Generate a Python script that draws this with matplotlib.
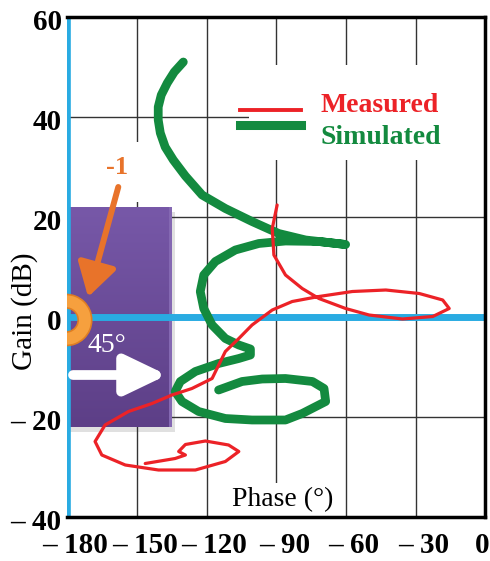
import numpy as np
import matplotlib
matplotlib.use("Agg")
import matplotlib.pyplot as plt
import matplotlib.transforms as mtransforms
from matplotlib.patches import Rectangle, Wedge
from matplotlib.colors import LinearSegmentedColormap

plt.rcParams['font.family'] = ['Liberation Serif', 'DejaVu Serif']

# === data (phase in degrees, gain in dB) ===
sim_phase = [-130.0, -133.9, -136.9, -139.5, -140.8, -140.8, -139.9, -137.8, -134.3,
             -129.1, -121.9, -111.9, -100.4, -88.9, -77.3, -60.1, -71.6, -86.0,
             -97.5, -107.6, -116.2, -121.2, -122.7, -121.2, -117.6, -111.9, -106.1,
             -101.1, -101.1, -106.1, -114.8, -124.8, -131.3, -133.5, -130.6, -123.4,
             -111.9, -100.4, -86.0, -78.8, -68.7, -69.4, -74.4, -86.0, -96.0,
             -104.7, -114.8]
sim_gain = [51.0, 49.0, 46.8, 44.4, 42.0, 39.4, 36.8, 34.0, 31.4,
            28.2, 24.4, 21.7, 19.1, 16.7, 15.4, 14.5, 15.1, 15.2,
            14.7, 13.4, 11.1, 8.4, 5.1, 1.7, -1.6, -4.3, -5.6,
            -6.4, -7.6, -8.3, -9.3, -10.9, -12.9, -14.9, -16.9, -18.9,
            -20.3, -20.6, -20.6, -19.3, -16.9, -14.3, -12.9, -12.3, -12.4,
            -12.9, -14.6]

meas_phase = [-89.6, -91.7, -91.0, -86.0, -78.8, -71.6, -60.1, -50.0, -35.6, -22.6,
              -15.5, -18.3, -28.4, -42.8, -57.2, -71.6, -83.1, -91.7, -100.4, -106.1,
              -111.9, -115.5, -117.6, -126.3, -134.9, -143.5, -153.6, -163.7, -168.0,
              -165.1, -155.0, -140.7, -124.8, -111.9, -106.1, -110.5, -120.5, -129.1,
              -132.0, -129.1, -133.5, -146.4]
meas_gain = [22.4, 17.7, 12.4, 8.4, 5.7, 3.7, 1.7, 0.4, -0.4, 0.1,
             1.7, 3.4, 4.7, 5.4, 5.1, 4.1, 3.1, 1.4, -1.6, -4.3,
             -6.9, -10.3, -12.3, -14.3, -15.6, -17.3, -18.9, -21.6, -24.9,
             -27.6, -29.6, -30.6, -30.6, -28.9, -26.9, -25.6, -24.8, -25.5,
             -26.9, -27.6, -28.3, -29.3]

phase_ticks = [-180, -150, -120, -90, -60, -30, 0]
phase_labels = ['– 180', '– 150', '– 120', '– 90', '– 60', '– 30', '0']
gain_ticks = [-40, -20, 0, 20, 40, 60]
gain_labels = ['– 40', '– 20', '0', '20', '40', '60']

# margin box (45° phase, about ±22 dB gain)
box_phase = [-180, -135]
box_gain = [-22, 22]

BLUE = '#29ABE2'
RED = '#EC2227'
GREEN = '#138A3F'
ORANGE = '#E8732A'

fig = plt.figure(figsize=(4.9, 5.61), dpi=100)
ax = fig.add_axes([67.2 / 490, 44 / 561, 418 / 490, 500 / 561])

# === grid ===
ax.set_xticks(phase_ticks)
ax.set_yticks(gain_ticks)
ax.grid(True, color='#333333', linewidth=1.0)
for gl in ax.get_xgridlines() + ax.get_ygridlines():
    gl.set_zorder(3)

# === purple box with shadow and gradient ===
ax.add_patch(Rectangle((box_phase[0], box_gain[0] - 1.0), box_phase[1] - box_phase[0] + 1.6,
                       box_gain[1] - box_gain[0], facecolor='#999999', alpha=0.3,
                       edgecolor='none', zorder=1))
cmap = LinearSegmentedColormap.from_list('purp', ['#7758A8', '#5D3F87'])
grad = np.linspace(0, 1, 100).reshape(-1, 1)
ax.imshow(grad, extent=[box_phase[0], box_phase[1], box_gain[0], box_gain[1]],
          aspect='auto', cmap=cmap, zorder=2, interpolation='bilinear')
ax.add_patch(Rectangle((box_phase[1] - 1.2, box_gain[0]), 1.2, box_gain[1] - box_gain[0],
                       facecolor='#8468B2', edgecolor='none', zorder=2))
ax.set_xlim(-180, 0)
ax.set_ylim(-40, 60)

# white boxes behind the texts (they break the grid)
ax.add_patch(Rectangle((-101.5, 31.5), 106.2, 19.0, facecolor='white',
                       edgecolor='none', zorder=4))
ax.add_patch(Rectangle((-166.0, 23.0), 23.5, 12.0, facecolor='white',
                       edgecolor='none', zorder=4))
ax.add_patch(Rectangle((-109.0, -40), 46.0, 6.8, facecolor='white',
                       edgecolor='none', zorder=4))

# === blue axes lines ===
ax.axhline(0, color=BLUE, linewidth=5, zorder=5)
ax.axvline(-180, color=BLUE, linewidth=5.5, zorder=5)

# === curves ===
ax.plot(sim_phase, sim_gain, color=GREEN, linewidth=6.3, solid_capstyle='round',
        solid_joinstyle='round', zorder=6)
ax.plot(meas_phase, meas_gain, color=RED, linewidth=2.3, solid_capstyle='round',
        solid_joinstyle='round', zorder=7)

# === legend ===
ax.plot([-105.4, -79.5], [41.4, 41.4], color=RED, linewidth=2.8, zorder=6)
ax.plot([-105.4, -79.5], [38.4, 38.4], color=GREEN, linewidth=6.5, zorder=6)
ax.text(-70.9, 42.4, 'Measured', color=RED, fontsize=20, fontweight='bold',
        va='center', ha='left', zorder=8)
ax.text(-70.9, 36.0, 'Simulated', color=GREEN, fontsize=20, fontweight='bold',
        va='center', ha='left', zorder=8)

# === orange -1 marker ===
center = mtransforms.ScaledTranslation(-180, 0, ax.transData)
ax.add_patch(Wedge((-0.01, -0.03), 0.255, -92, 92, width=0.135,
                   transform=fig.dpi_scale_trans + center,
                   facecolor='#F6A03E', edgecolor='#E07E22', linewidth=1.2, zorder=9))
ax.annotate('', xy=(-171.0, 4.0), xytext=(-158.0, 26.0),
            arrowprops=dict(arrowstyle='-|>,head_length=1.0,head_width=0.6',
                            mutation_scale=20, color=ORANGE, linewidth=4.3,
                            shrinkA=0, shrinkB=0),
            zorder=9)
ax.text(-158.5, 29.8, '-1', color=ORANGE, fontsize=19, fontweight='bold',
        ha='center', va='center', zorder=9)

# === white 45° arrow ===
ax.annotate('', xy=(-137.0, -11.6), xytext=(-177.5, -11.6),
            arrowprops=dict(arrowstyle='-|>,head_length=1.25,head_width=0.6',
                            mutation_scale=20, color='white', linewidth=7,
                            shrinkA=0, shrinkB=0),
            zorder=9)
ax.text(-162.8, -5.6, '45°', color='white', fontsize=20, ha='center',
        va='center', zorder=9)

# === labels ===
ax.text(-87.2, -36.6, 'Phase (°)', fontsize=20, ha='center', va='center', zorder=8)
fig.text(25 / 490, 1 - 311 / 561, 'Gain (dB)', fontsize=21, rotation=90,
         ha='center', va='center')

ax.set_xticklabels(phase_labels, fontsize=21, fontweight='bold')
ax.set_yticklabels(gain_labels, fontsize=21, fontweight='bold')
ax.tick_params(axis='both', length=0)
ax.tick_params(axis='x', pad=11)
ax.tick_params(axis='y', pad=4)
for lab in ax.get_xticklabels():
    dx = -3 / 100 if lab.get_text() == '0' else 8 / 100
    lab.set_transform(lab.get_transform() +
                      mtransforms.ScaledTranslation(dx, 0, fig.dpi_scale_trans))
for lab in ax.get_yticklabels():
    lab.set_transform(lab.get_transform() +
                      mtransforms.ScaledTranslation(0, -3 / 100, fig.dpi_scale_trans))

# === frame ===
for side in ['top', 'right', 'bottom']:
    ax.spines[side].set_linewidth(2.5)
    ax.spines[side].set_color('black')
    ax.spines[side].set_zorder(10)
ax.spines['left'].set_visible(False)

fig.savefig('out.png', dpi=100)
